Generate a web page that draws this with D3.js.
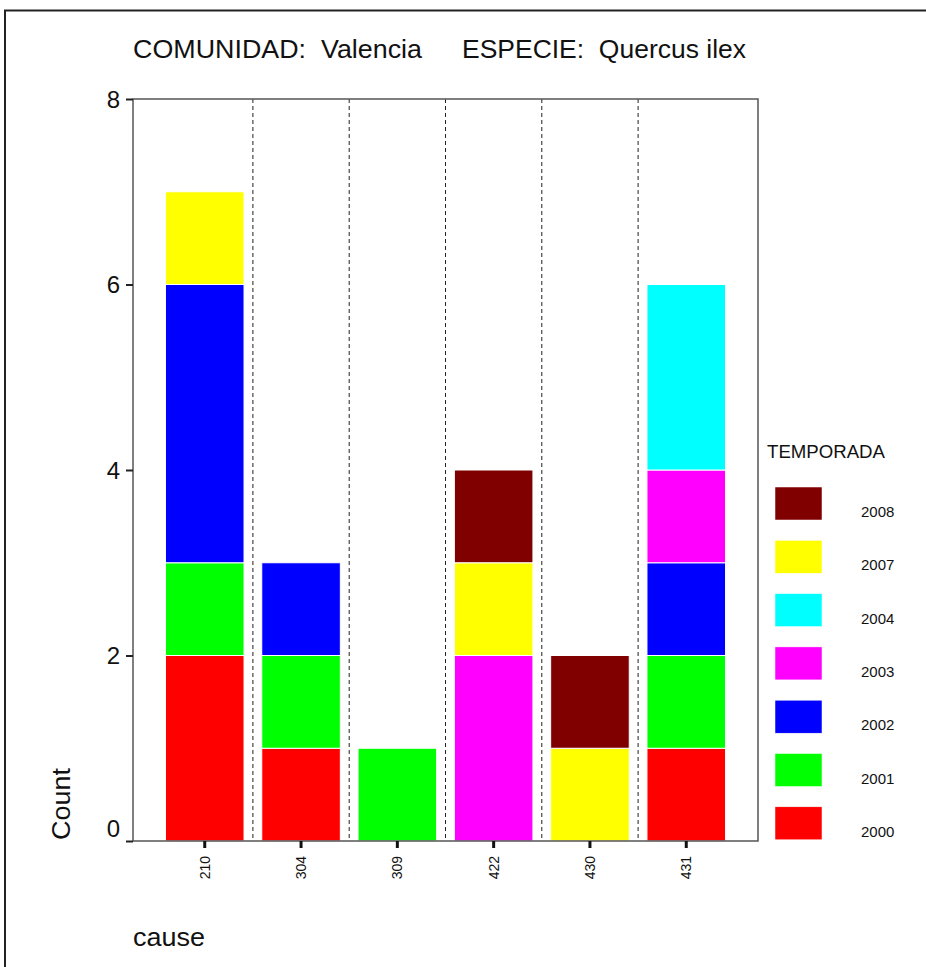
<!DOCTYPE html>
<html><head><meta charset="utf-8">
<script src="https://cdn.jsdelivr.net/npm/d3@7"></script>
<style>html,body{margin:0;background:#fff;overflow:hidden;} svg{display:block;font-family:"Liberation Sans",Arial,sans-serif;} text{white-space:pre;}</style>
</head><body>
<script>
const categories = ["210","304","309","422","430","431"];
const seasons = ["2000","2001","2002","2003","2004","2007","2008"];
const legendOrder = ["2008","2007","2004","2003","2002","2001","2000"];
const seasonColors = ["#ff0000","#00ff00","#0000ff","#ff00ff","#00ffff","#ffff00","#800000"];
const v2000 = [2,1,0,0,0,1];
const v2001 = [1,1,1,0,0,1];
const v2002 = [3,1,0,0,0,1];
const v2003 = [0,0,0,2,0,1];
const v2004 = [0,0,0,0,0,2];
const v2007 = [1,0,0,1,1,0];
const v2008 = [0,0,0,1,1,0];
const yTicks = [0,2,4,6,8];
const titleLeft = "COMUNIDAD:  Valencia";
const titleRight = "ESPECIE:  Quercus ilex";

const seriesVals = [v2000,v2001,v2002,v2003,v2004,v2007,v2008];
const rows = categories.map((c,i)=>{const r={cause:c}; seasons.forEach((s,j)=>r[s]=seriesVals[j][i]); return r;});

const W=926,H=967;
const svg=d3.select("body").append("svg").attr("width",W).attr("height",H);
const L=133,R=758,T=99,B=841;

// outer border (left and top only visible)
svg.append("line").attr("x1",5).attr("x2",5).attr("y1",10).attr("y2",H).attr("stroke","#222").attr("stroke-width",2);
svg.append("line").attr("x1",4).attr("x2",W).attr("y1",10.5).attr("y2",10.5).attr("stroke","#222").attr("stroke-width",2);

const x=d3.scaleBand().domain(categories).range([L,R]).paddingInner(0.184).paddingOuter(0.337);
const y=d3.scaleLinear().domain([0,8]).range([B,T]);
const color=d3.scaleOrdinal().domain(seasons).range(seasonColors);

// dashed separators
const step=x.step();
svg.append("g").selectAll("line").data(categories.slice(1)).join("line")
  .attr("x1",d=>x(d)+x.bandwidth()/2-step/2).attr("x2",d=>x(d)+x.bandwidth()/2-step/2)
  .attr("y1",T).attr("y2",B).attr("stroke","#222").attr("stroke-width",1).attr("stroke-dasharray","4,3");

const stack=d3.stack().keys(seasons)(rows);
svg.append("g").selectAll("g").data(stack).join("g").attr("fill",d=>color(d.key))
  .selectAll("rect").data(d=>d.filter(p=>p[1]-p[0]>0)).join("rect")
  .attr("x",d=>x(d.data.cause)).attr("width",x.bandwidth())
  .attr("y",d=>y(d[1])).attr("height",d=>y(d[0])-y(d[1]))
  .attr("stroke","#fff").attr("stroke-width",1);

// frame
svg.append("rect").attr("x",L).attr("y",T).attr("width",R-L).attr("height",B-T)
  .attr("fill","none").attr("stroke","#555").attr("stroke-width",1.5);

// y axis
const ya=svg.append("g").attr("transform",`translate(${L},0)`)
  .call(d3.axisLeft(y).tickValues(yTicks).tickSize(7).tickPadding(6).tickFormat(d3.format("d")));
ya.select(".domain").remove();
ya.selectAll(".tick line").attr("stroke","#222").attr("stroke-width",2);
ya.selectAll(".tick text").attr("font-size",24).attr("fill","#111").attr("font-family","Liberation Sans, Arial, sans-serif")
  .attr("dy",d=>d===0?"-0.2em":"0.35em");

// x axis
const xa=svg.append("g").attr("transform",`translate(0,${B})`)
  .call(d3.axisBottom(x).tickSize(7).tickPadding(0));
xa.select(".domain").remove();
xa.selectAll(".tick line").attr("stroke","#111").attr("stroke-width",3);
xa.selectAll(".tick text").attr("font-size",14).attr("fill","#111").attr("font-family","Liberation Sans, Arial, sans-serif")
  .attr("transform","rotate(-90)").attr("text-anchor","end").attr("x",-15).attr("y",0).attr("dy","0.35em");

// titles
svg.append("text").attr("x",133).attr("y",58).attr("font-size",25.5).attr("fill","#111")
  .attr("textLength",289).attr("lengthAdjust","spacingAndGlyphs").text(titleLeft);
svg.append("text").attr("x",462).attr("y",58).attr("font-size",25.5).attr("fill","#111")
  .attr("textLength",284).attr("lengthAdjust","spacingAndGlyphs").text(titleRight);
svg.append("text").attr("transform","translate(70,840) rotate(-90)").attr("font-size",25.5).attr("fill","#111")
  .attr("textLength",72).attr("lengthAdjust","spacingAndGlyphs").text("Count");
svg.append("text").attr("x",133).attr("y",946).attr("font-size",25.5).attr("fill","#111")
  .attr("textLength",72).attr("lengthAdjust","spacingAndGlyphs").text("cause");

// legend
svg.append("text").attr("x",767).attr("y",458).attr("font-size",18).attr("fill","#111")
  .attr("textLength",118).attr("lengthAdjust","spacingAndGlyphs").text("TEMPORADA");
const lg=svg.append("g").selectAll("g").data(legendOrder).join("g")
  .attr("transform",(d,i)=>`translate(775,${487+i*53.3})`);
lg.append("rect").attr("width",47).attr("height",33).attr("fill",d=>color(d)).attr("stroke","#fff").attr("stroke-width",0.5);
lg.append("text").attr("x",86).attr("y",30).attr("font-size",15).attr("fill","#111").text(d=>d);
</script>
</body></html>
